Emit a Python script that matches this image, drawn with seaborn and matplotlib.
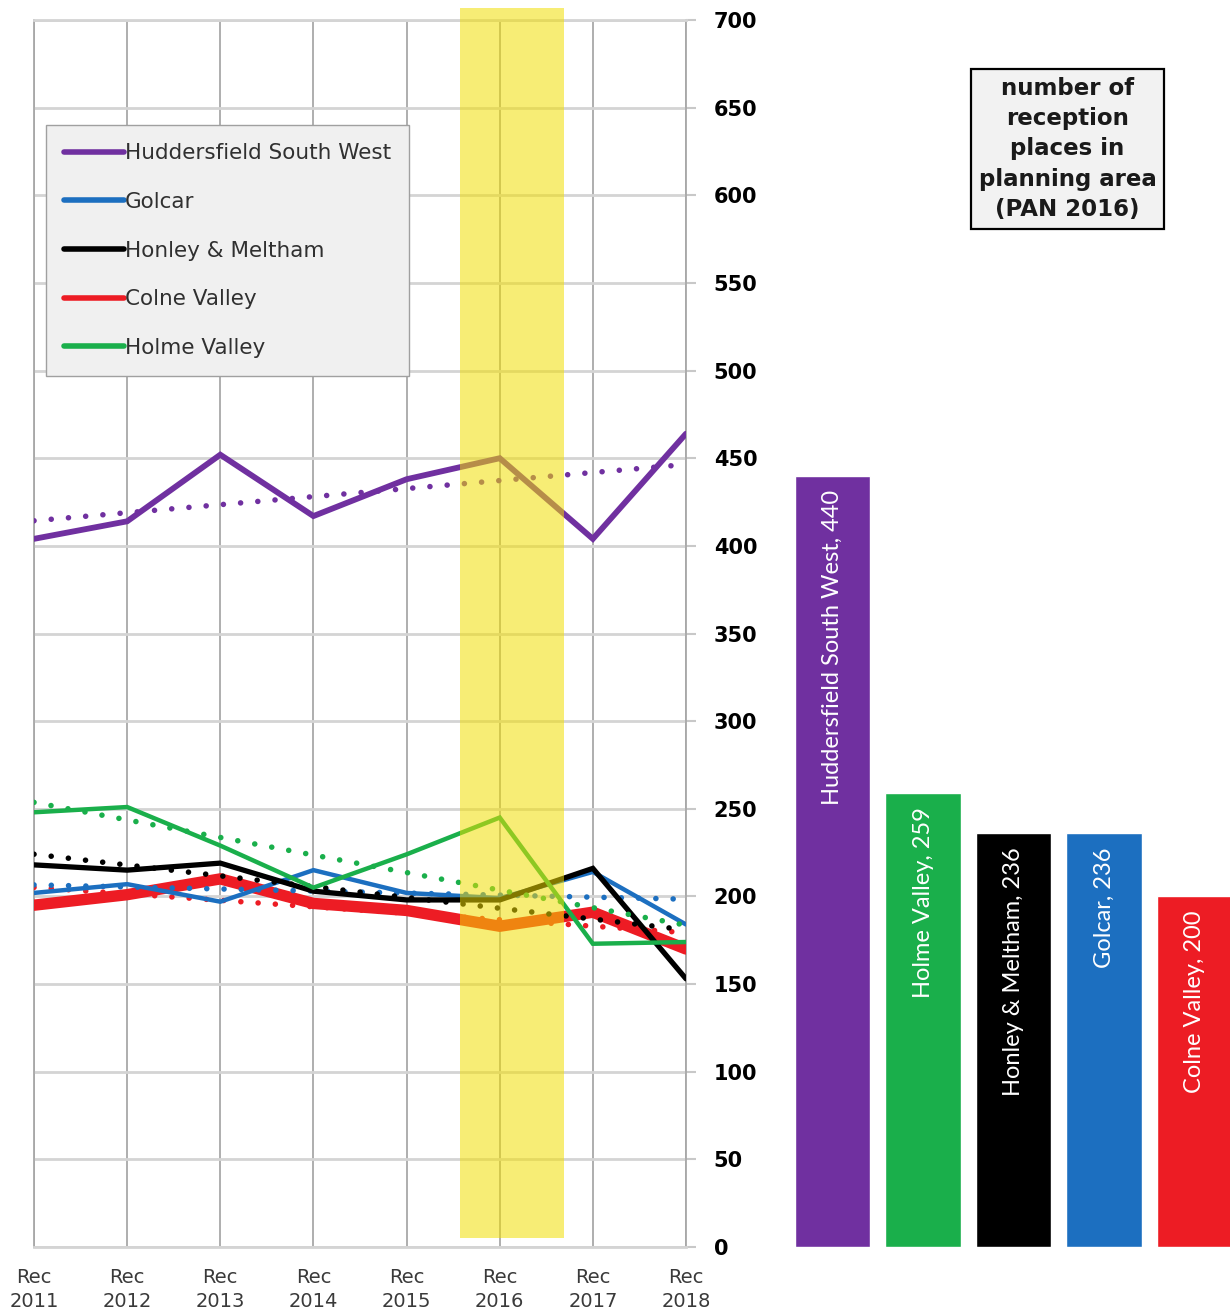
import pandas as pd
import seaborn as sns
import matplotlib.pyplot as plt
from matplotlib.patches import Rectangle

# reception intake per planning area, Rec 2011 .. Rec 2018
years = ["Rec\n2011", "Rec\n2012", "Rec\n2013", "Rec\n2014",
         "Rec\n2015", "Rec\n2016", "Rec\n2017", "Rec\n2018"]
hsw = [404, 414, 452, 417, 438, 450, 404, 464]
golcar = [202, 207, 197, 215, 202, 199, 214, 184]
honley = [218, 215, 219, 203, 198, 198, 216, 153]
colne = [195, 201, 210, 196, 192, 183, 191, 170]
holme = [248, 251, 229, 205, 224, 245, 173, 174]

line_names = ["Huddersfield South West", "Golcar", "Honley & Meltham",
              "Colne Valley", "Holme Valley"]
line_values = [hsw, golcar, honley, colne, holme]

# PAN 2016 reception places
areas = ["Huddersfield South West", "Holme Valley", "Honley & Meltham",
         "Golcar", "Colne Valley"]
pan_2016 = [440, 259, 236, 236, 200]

highlight_year = "Rec\n2016"

colours = {
    "Huddersfield South West": "#7030A0",
    "Golcar": "#1C6FC0",
    "Honley & Meltham": "#000000",
    "Colne Valley": "#ED1C24",
    "Holme Valley": "#1AAF4B",
}
widths = {
    "Huddersfield South West": 4.2,
    "Golcar": 3.2,
    "Honley & Meltham": 3.8,
    "Colne Valley": 8.2,
    "Holme Valley": 3.2,
}
zorders = {
    "Huddersfield South West": 4,
    "Golcar": 4,
    "Honley & Meltham": 5,
    "Colne Valley": 3,
    "Holme Valley": 6,
}

rows = []
for name, vals in zip(line_names, line_values):
    for i, v in enumerate(vals):
        rows.append({"area": name, "idx": i, "year": years[i], "pupils": v})
df = pd.DataFrame(rows)

sns.set_style("white")
plt.rcParams["font.family"] = ["DejaVu Sans"]

W, H = 1230, 1314
fig = plt.figure(figsize=(W / 100, H / 100), dpi=100)

bottom = 1 - 1247 / H
height = (1247 - 20) / H
ax = fig.add_axes([34 / W, bottom, (686 - 34) / W, height])

for name in line_names:
    sub = df[df["area"] == name]
    sns.lineplot(data=sub, x="idx", y="pupils", color=colours[name],
                 lw=widths[name], label=name, ax=ax, zorder=zorders[name],
                 solid_capstyle="round", solid_joinstyle="miter")
    sns.regplot(data=sub, x="idx", y="pupils", scatter=False, ci=None,
                color=colours[name], ax=ax,
                line_kws=dict(ls=(0, (0.01, 3.1)), lw=4.0,
                              dash_capstyle="round", zorder=zorders[name]))

# highlight of the PAN year
hx = years.index(highlight_year)
ax.add_patch(Rectangle((hx - 0.43, 5), 1.12, 702, facecolor="#F2DE00",
                       alpha=0.54, edgecolor="none", zorder=8, clip_on=False))

ax.set_xlim(0, len(years) - 1)
ax.set_ylim(0, 700)
ax.set_xticks(range(len(years)))
ax.set_xticklabels(years, linespacing=1.35)
ax.set_yticks(range(0, 701, 50))
ax.set_xlabel("")
ax.set_ylabel("")
ax.yaxis.tick_right()
ax.grid(axis="y", color="#D4D4D4", lw=2.0, zorder=0)
ax.grid(axis="x", color="#A8A8A8", lw=1.3, zorder=0)
ax.set_axisbelow(True)
for side in ["left", "right"]:
    ax.spines[side].set_color("#A8A8A8")
    ax.spines[side].set_linewidth(1.3)
for side in ["top", "bottom"]:
    ax.spines[side].set_color("#D4D4D4")
    ax.spines[side].set_linewidth(2.0)
ax.tick_params(axis="y", length=7, width=1.5, color="#C8C8C8", pad=13,
               labelsize=15, labelcolor="black")
ax.tick_params(axis="x", length=7, width=1.3, color="#A8A8A8", pad=8,
               labelsize=14, labelcolor="#3A3A3A")
for lab in ax.get_yticklabels():
    lab.set_fontweight("bold")

leg = ax.legend(loc="upper left", bbox_to_anchor=((46 - 34) / 652, (1247 - 125) / 1227),
                borderaxespad=0, frameon=True, fancybox=False, framealpha=1,
                facecolor="#F0F0F0", edgecolor="#A0A0A0", fontsize=15.5,
                handlelength=2.75, handletextpad=0.05, labelspacing=1.33,
                borderpad=0.85)
leg.set_zorder(10)
for t in leg.get_texts():
    t.set_color("#303030")
for h in leg.get_lines():
    h.set_linewidth(4)

# bars of reception places
ax2 = fig.add_axes([787.25 / W, bottom, 452.5 / W, height])
sns.barplot(x=areas, y=pan_2016, hue=areas, order=areas, hue_order=areas,
            palette=[colours[a] for a in areas], saturation=1, width=0.83,
            legend=False, ax=ax2)
ax2.set_xlim(-0.5, len(areas) - 0.5)
ax2.set_ylim(0, 700)
ax2.axis("off")
for i, (a, v) in enumerate(zip(areas, pan_2016)):
    ax2.text(i, v - 8, f"{a}, {v}", rotation=90, ha="center", va="top",
             color="white", fontsize=17, family=["Lato", "DejaVu Sans"])

fig.text(1067.5 / W, 1 - 149 / H,
         "number of\nreception\nplaces in\nplanning area\n(PAN 2016)",
         ha="center", va="center", fontsize=16.5, fontweight="bold",
         linespacing=1.4, color="#1A1A1A",
         bbox=dict(boxstyle="square,pad=0.35", facecolor="#F2F2F2",
                   edgecolor="black", lw=1.6))

fig.savefig("out.png", dpi=100)
